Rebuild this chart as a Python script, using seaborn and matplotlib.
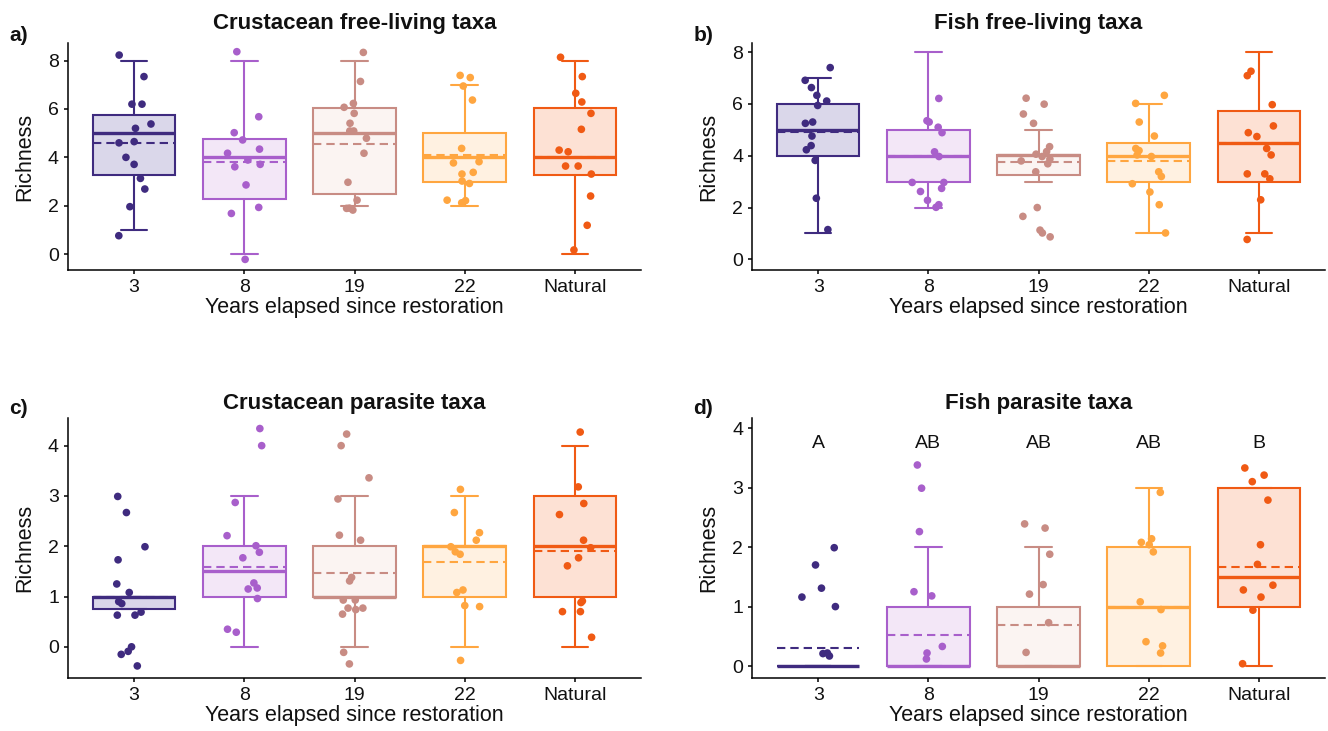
import numpy as np
import pandas as pd
import matplotlib
matplotlib.use("Agg")
import matplotlib.pyplot as plt
import seaborn as sns

## Données

groups = ["3", "8", "19", "22", "Natural"]
line_colors = ["#3F2B7F", "#A85FCB", "#C88C84", "#FFA640", "#F05A14"]
fill_colors = ["#DAD7EA", "#F3E7F7", "#FBF4F2", "#FFF1E1", "#FDE1D4"]

# a) Crustacean free-living taxa
crust_free_pts = [
    [8.23, 7.34, 6.2, 6.2, 5.38, 5.2, 4.65, 4.6, 4.0, 3.71, 3.13, 2.69, 1.96, 0.76],
    [8.37, 5.68, 5.02, 4.72, 4.34, 4.17, 3.89, 3.71, 3.61, 2.86, 1.93, 1.68, -0.22],
    [8.34, 7.14, 6.23, 6.07, 5.82, 5.41, 5.09, 5.09, 4.79, 4.17, 2.97, 2.23, 1.89, 1.82, 1.9],
    [7.3, 7.39, 6.95, 6.37, 4.37, 3.82, 3.77, 3.38, 3.31, 3.02, 2.92, 2.21, 2.12, 2.23],
    [8.14, 7.34, 6.65, 6.29, 5.82, 5.16, 4.3, 4.23, 3.64, 3.64, 3.31, 2.4, 1.19, 0.17],
]
crust_free_q1 = [3.27, 2.26, 2.5, 3.0, 3.27]
crust_free_med = [5, 4, 5, 4, 4]
crust_free_q3 = [5.75, 4.77, 6.03, 5.02, 6.03]
crust_free_lo = [1, 0, 2, 2, 0]
crust_free_hi = [8, 8, 8, 7, 8]
crust_free_mean = [4.58, 3.79, 4.55, 4.1, 4.0]

# b) Fish free-living taxa
fish_free_pts = [
    [7.4, 6.91, 6.63, 6.33, 6.11, 5.94, 5.25, 5.3, 4.76, 4.39, 4.23, 3.82, 2.36, 1.15],
    [6.21, 5.3, 5.35, 5.1, 4.89, 4.15, 3.97, 2.97, 2.97, 2.74, 2.62, 2.28, 2.11, 2.01],
    [6.22, 5.99, 5.61, 5.25, 4.35, 4.06, 3.97, 4.16, 3.87, 3.69, 3.8, 3.38, 2.0, 1.66, 1.13, 1.02, 0.87],
    [6.33, 6.02, 5.3, 4.76, 4.28, 4.2, 3.97, 4.03, 3.38, 3.2, 2.92, 2.6, 2.11, 1.02],
    [7.26, 7.09, 5.97, 5.15, 4.89, 4.74, 4.28, 4.03, 3.3, 3.3, 3.11, 2.3, 0.77],
]
fish_free_q1 = [4, 3, 3.27, 3, 3]
fish_free_med = [5, 4, 4.03, 4, 4.48]
fish_free_q3 = [6, 5, 4.03, 4.48, 5.74]
fish_free_lo = [1, 2, 3, 1, 1]
fish_free_hi = [7, 8, 5, 6, 8]
fish_free_mean = [4.93, 4.0, 3.74, 3.8, 4.48]

# c) Crustacean parasite taxa
crust_para_pts = [
    [2.99, 2.67, 1.99, 1.73, 1.25, 1.08, 0.9, 0.86, 0.63, 0.63, 0.69, 0.0, -0.15, -0.09, -0.38],
    [4.34, 4.0, 2.87, 2.21, 2.01, 1.88, 1.77, 1.27, 1.17, 1.15, 0.96, 0.35, 0.29],
    [4.23, 4.0, 3.36, 2.94, 2.12, 2.22, 1.31, 1.38, 0.93, 0.93, 0.74, 0.77, 0.77, 0.65, -0.11, -0.34],
    [3.13, 2.67, 2.27, 2.12, 1.99, 1.84, 1.89, 1.13, 1.08, 0.82, 0.8, -0.27],
    [4.27, 3.18, 2.85, 2.63, 2.12, 1.97, 1.77, 1.61, 0.88, 0.91, 0.7, 0.7, 0.19],
]
crust_para_q1 = [0.75, 1, 1, 1, 1]
crust_para_med = [1, 1.5, 1, 2, 2]
crust_para_q3 = [1, 2, 2, 2, 3]
crust_para_lo = [0.75, 0, 0, 0, 0]
crust_para_hi = [1, 3, 3, 3, 4]
crust_para_mean = [1, 1.59, 1.46, 1.68, 1.91]

# d) Fish parasite taxa
fish_para_pts = [
    [1.99, 1.7, 1.31, 1.16, 1.0, 0.17, 0.21, 0.22],
    [3.38, 2.99, 2.26, 1.18, 1.25, 0.33, 0.22, 0.12],
    [2.39, 2.32, 1.88, 1.37, 1.21, 0.73, 0.23],
    [2.92, 2.14, 2.08, 2.04, 1.92, 1.08, 0.95, 0.41, 0.34, 0.22],
    [3.33, 3.21, 3.1, 2.79, 2.04, 1.71, 1.36, 1.28, 1.16, 0.94, 0.04],
]
fish_para_q1 = [0, 0, 0, 0, 1]
fish_para_med = [0, 0, 0, 1, 1.5]
fish_para_q3 = [0, 1, 1, 2, 3]
fish_para_lo = [0, 0, 0, 0, 0]
fish_para_hi = [0, 2, 2, 3, 3]
fish_para_mean = [0.31, 0.53, 0.69, 1.0, 1.66]
fish_para_letters = ["A", "AB", "AB", "AB", "B"]

## Style

sns.set_style("ticks")
plt.rcParams["font.family"] = ["Liberation Sans", "DejaVu Sans"]
plt.rcParams["axes.linewidth"] = 1.1
plt.rcParams["axes.edgecolor"] = "black"
plt.rcParams["xtick.major.width"] = 1.1
plt.rcParams["ytick.major.width"] = 1.1
plt.rcParams["xtick.major.size"] = 3
plt.rcParams["ytick.major.size"] = 3
plt.rcParams["xtick.color"] = "black"
plt.rcParams["ytick.color"] = "black"
plt.rcParams["text.color"] = "#111111"
plt.rcParams["axes.labelcolor"] = "#111111"
plt.rcParams["xtick.labelcolor"] = "#111111"
plt.rcParams["ytick.labelcolor"] = "#111111"

np.random.seed(7)

fig = plt.figure(figsize=(13.28, 7.31), dpi=100)


def panel(rect, title, pts, q1, med, q3, lo, hi, mean, ylim, yticks, title_pad):
    ax = fig.add_axes(rect)
    for i in range(len(groups)):
        st = [dict(med=med[i], q1=q1[i], q3=q3[i], whislo=lo[i], whishi=hi[i], mean=mean[i])]
        c = line_colors[i]
        ax.bxp(st, positions=[i], widths=0.75, capwidths=[0.24], patch_artist=True,
               showmeans=True, meanline=True, showfliers=False, manage_ticks=False,
               boxprops=dict(facecolor=fill_colors[i], edgecolor=c, linewidth=1.5),
               medianprops=dict(color=c, linewidth=2.4),
               whiskerprops=dict(color=c, linewidth=1.5),
               capprops=dict(color=c, linewidth=1.5),
               meanprops=dict(color=c, linestyle=(0, (4, 2.4)), linewidth=1.5),
               zorder=2)
    df = pd.DataFrame({
        "group": [g for g, p in zip(groups, pts) for _ in p],
        "value": [v for p in pts for v in p],
    })
    sns.stripplot(data=df, x="group", y="value", order=groups, hue="group",
                  hue_order=groups, palette=line_colors, jitter=0.16, size=5.5,
                  linewidth=0, legend=False, ax=ax, zorder=3)
    ax.set_xlim(-0.6, 4.6)
    ax.set_ylim(*ylim)
    ax.set_xticks(range(len(groups)))
    ax.set_xticklabels(groups, fontsize=14)
    ax.set_yticks(yticks)
    ax.set_yticklabels([str(t) for t in yticks], fontsize=14)
    ax.set_xlabel("Years elapsed since restoration", fontsize=15.5, labelpad=1)
    ax.set_ylabel("Richness", fontsize=15.5, labelpad=9)
    ax.set_title(title, fontsize=16, fontweight="bold", pad=title_pad)
    sns.despine(ax=ax)
    return ax


ax_a = panel([0.0512, 0.6306, 0.4315, 0.3106], "Crustacean free-living taxa",
             crust_free_pts, crust_free_q1, crust_free_med, crust_free_q3,
             crust_free_lo, crust_free_hi, crust_free_mean,
             (-0.66, 8.73), [0, 2, 4, 6, 8], 10)
ax_b = panel([0.5663, 0.6306, 0.4315, 0.3106], "Fish free-living taxa",
             fish_free_pts, fish_free_q1, fish_free_med, fish_free_q3,
             fish_free_lo, fish_free_hi, fish_free_mean,
             (-0.41, 8.35), [0, 2, 4, 6, 8], 10)
ax_c = panel([0.0512, 0.0725, 0.4315, 0.3557], "Crustacean parasite taxa",
             crust_para_pts, crust_para_q1, crust_para_med, crust_para_q3,
             crust_para_lo, crust_para_hi, crust_para_mean,
             (-0.62, 4.55), [0, 1, 2, 3, 4], 6.5)
ax_d = panel([0.5663, 0.0725, 0.4315, 0.3557], "Fish parasite taxa",
             fish_para_pts, fish_para_q1, fish_para_med, fish_para_q3,
             fish_para_lo, fish_para_hi, fish_para_mean,
             (-0.2, 4.17), [0, 1, 2, 3, 4], 6.5)

for i, lab in enumerate(fish_para_letters):
    ax_d.text(i, 3.74, lab, ha="center", va="center", fontsize=14)

# lettres des panneaux
for x, y, lab in [(0.007, 0.952, "a)"), (0.522, 0.952, "b)"),
                  (0.007, 0.441, "c)"), (0.522, 0.441, "d)")]:
    fig.text(x, y, lab, fontsize=15, fontweight="bold", va="center")

fig.savefig("out.png", dpi=100)
